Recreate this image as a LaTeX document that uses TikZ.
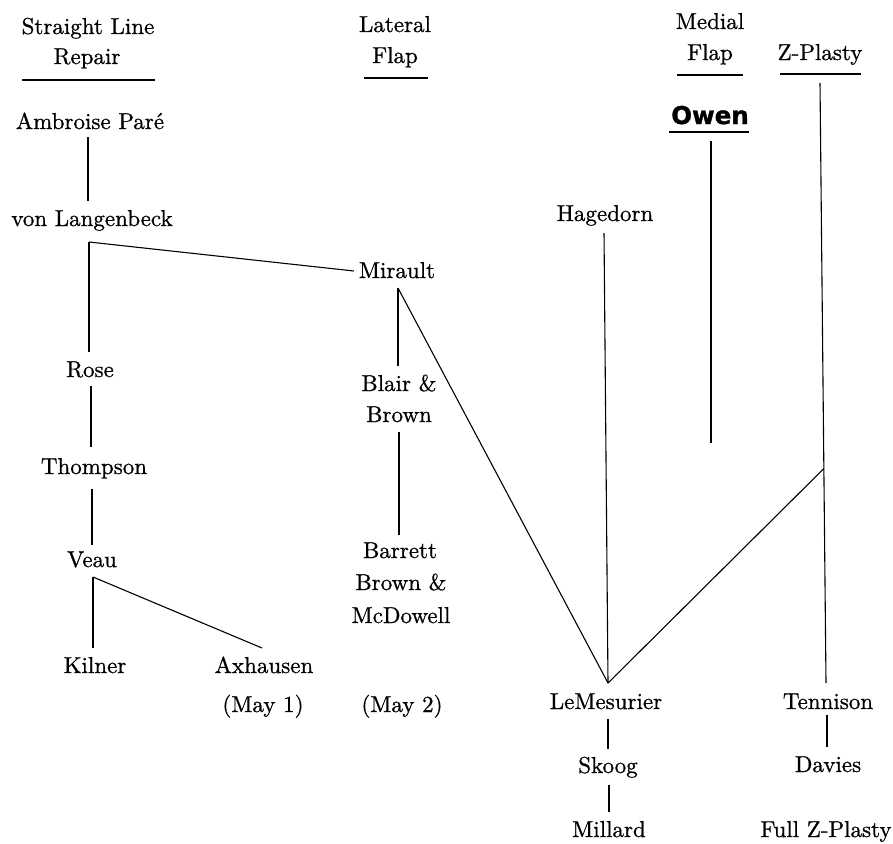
\documentclass[tikz,border=0pt]{standalone}
\usepackage{fontspec}
\setmainfont{lmroman10-regular}[Extension=.otf, FakeBold=0.8]
\newfontfamily\owenfont{DejaVu Sans}[FakeBold=1.2]
\usetikzlibrary{calc}
\begin{document}
\begin{tikzpicture}[x=1pt,y=-1pt,
  lbl/.style={inner sep=0pt, anchor=base, font=\fontsize{23}{31}\selectfont},
  owenlbl/.style={inner sep=0pt, anchor=base, font=\owenfont\bfseries\fontsize{24.5}{30}\selectfont},
  conn/.style={line width=1.1pt},
  uline/.style={line width=1.7pt},
  oline/.style={line width=2.6pt}]
\useasboundingbox (0,0) rectangle (893,843);
% headers
\node[lbl] (sl1) at (88,34) {Straight Line};
\node[lbl] (sl2) at (87,64) {Repair};
\node[lbl] (la1) at (395,32) {Lateral};
\node[lbl] (la2) at (395,63) {Flap};
\node[lbl] (me1) at (710,29) {Medial};
\node[lbl] (me2) at (710,60) {Flap};
\node[lbl] (zp) at (820,60) {Z-Plasty};
\draw[uline] ($(sl2.base)+(-65,16)$) -- ($(sl2.base)+(68,16)$);
\draw[uline] ($(la2.base)+(-31,15)$) -- ($(la2.base)+(33,15)$);
\draw[uline] ($(me2.base)+(-33,15)$) -- ($(me2.base)+(33,15)$);
\draw[uline] ($(zp.base)+(-40,14)$) -- ($(zp.base)+(41,14)$);
% straight line column
\node[lbl] (pare) at (90,129) {Ambroise Paré};
\node[lbl] (vl) at (92,226) {von Langenbeck};
\node[lbl] (rose) at (90,377) {Rose};
\node[lbl] (thompson) at (94,474) {Thompson};
\node[lbl] (veau) at (92,567) {Veau};
\node[lbl] (kilner) at (95,673) {Kilner};
\node[lbl] (axhausen) at (264,673) {Axhausen};
\node[lbl] (may1) at (263,712) {(May 1)};
% lateral flap column
\node[lbl] (mirault) at (397,278) {Mirault};
\node[lbl] (blair) at (399,391) {Blair \&};
\node[lbl] (brown1) at (399,422) {Brown};
\node[lbl] (barrett) at (400,558) {Barrett};
\node[lbl] (brown2) at (401,590) {Brown \&};
\node[lbl] (mcdowell) at (401,623) {McDowell};
\node[lbl] (may2) at (402,712) {(May 2)};
% medial / others
\node[owenlbl] (owen) at (710,124) {Owen};
\draw[oline] ($(owen.base)+(-41,8)$) -- ($(owen.base)+(39,8)$);
\node[lbl] (hagedorn) at (605,221) {Hagedorn};
\node[lbl] (lem) at (606,709) {LeMesurier};
\node[lbl] (skoog) at (608,773) {Skoog};
\node[lbl] (millard) at (609,837) {Millard};
\node[lbl] (tennison) at (828,709) {Tennison};
\node[lbl] (davies) at (828,772) {Davies};
\node[lbl] (fullz) at (826,837) {Full Z-Plasty};
% junction coordinates
\coordinate (vlj) at ($(vl.base)+(-3,16)$);
\coordinate (veauj) at ($(veau.base)+(1,10)$);
\coordinate (mirj) at ($(mirault.base)+(1,10)$);
\coordinate (apex) at ($(lem.base)+(2,-26)$);
\coordinate (ztop) at ($(zp.base)+(0,23)$);
\coordinate (zbot) at ($(tennison.base)+(-2,-26)$);
\coordinate (zj) at ($(ztop)!0.6426!(zbot)$);
\coordinate (owenend) at ($(owen.base)+(1,319)$);
% connectors
\draw[conn] ($(pare.base)+(-2,8)$) -- ($(vl.base)+(-4,-25)$);
\draw[conn] (vlj) -- ($(rose.base)+(-1,-25)$);
\draw[conn] (vlj) -- ($(mirault.base)+(-43,-7)$);
\draw[conn] ($(rose.base)+(1,9)$) -- ($(thompson.base)+(-3,-27)$);
\draw[conn] ($(thompson.base)+(-2,15)$) -- ($(veau.base)+(0,-22)$);
\draw[conn] (veauj) -- ($(kilner.base)+(-2,-25)$);
\draw[conn] (veauj) -- ($(axhausen.base)+(-2,-25)$);
\draw[conn] (mirj) -- ($(blair.base)+(-1,-25)$);
\draw[conn] (mirj) -- (apex);
\draw[conn] ($(brown1.base)+(0,10)$) -- ($(barrett.base)+(-1,-23)$);
\draw[conn] ($(hagedorn.base)+(-1,12)$) -- (apex);
\draw[conn] (apex) -- (zj);
\draw[conn] (ztop) -- (zbot);
\draw[conn] ($(owen.base)+(1,17)$) -- (owenend);
\draw[conn] ($(lem.base)+(2,10)$) -- ($(skoog.base)+(0,-24)$);
\draw[conn] ($(skoog.base)+(1,12)$) -- ($(millard.base)+(0,-25)$);
\draw[conn] ($(tennison.base)+(-1,6)$) -- ($(davies.base)+(-1,-25)$);
\end{tikzpicture}
\end{document}
